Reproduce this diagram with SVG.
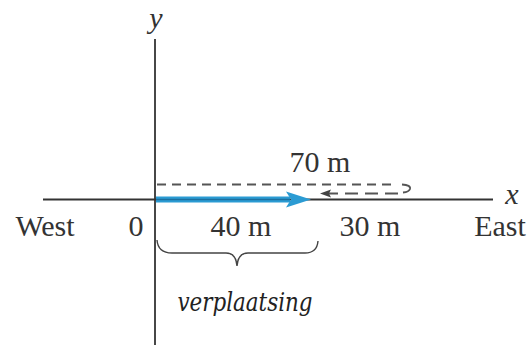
<svg xmlns="http://www.w3.org/2000/svg" width="532" height="351" viewBox="0 0 532 351">
<defs>
<style>
.lbl{font-family:"Liberation Serif","Times New Roman",serif;font-size:30px;fill:#333;text-anchor:middle}
.ax{stroke:#333;stroke-width:1.8;fill:none}
.dash{stroke:#555;stroke-width:2;fill:none;stroke-dasharray:9 6}
</style>
</defs>
<rect width="532" height="351" fill="#fff"/>
<g id="axes">
<line class="ax" x1="155" y1="39" x2="155" y2="345"/>
<line class="ax" x1="43" y1="199.5" x2="493" y2="199.5"/>
<text x="156" y="28" class="lbl" style="font-style:italic">y</text>
<text x="512" y="204" class="lbl" style="font-style:italic">x</text>
</g>
<g id="labels">
<text x="45" y="236" class="lbl">West</text>
<text x="136" y="236" class="lbl">0</text>
<text x="241" y="236" class="lbl">40 m</text>
<text x="370" y="236" class="lbl">30 m</text>
<text x="500" y="236" class="lbl">East</text>
<text x="320" y="172" class="lbl">70 m</text>
</g>
<g id="connectors">
<path class="dash" d="M157,184.5 H396"/>
<path d="M402,184.5 Q411,185 410,189 Q409,192 403,192.5" fill="none" stroke="#555" stroke-width="1.8"/>
<path class="dash" d="M398,193.5 H328" style="stroke-dasharray:13 7"/>
<path d="M320,193.5 L331,189.5 L329,193.5 L331,197.5 Z" fill="#444"/>
<g id="displacement">
<line x1="156" y1="199.5" x2="290" y2="199.5" stroke="#2b9bd3" stroke-width="6"/>
<line x1="156" y1="199.5" x2="290" y2="199.5" stroke="#1c6f9e" stroke-width="1.5"/>
<path d="M311,199.5 L286,191.5 L291,199.5 L286,207.5 Z" fill="#2b9bd3"/>
</g>
</g>
<g id="brace">
<path d="M157,240 Q158,253 172,253 H226 Q236,253 237,266 Q238,253 248,253 H305 Q317,253 318,241" fill="none" stroke="#444" stroke-width="1.4"/>
<text x="245" y="311" style="font-family:'DejaVu Serif','Liberation Serif',serif;font-style:italic;font-size:26px;fill:#222;text-anchor:middle" textLength="135" lengthAdjust="spacingAndGlyphs">verplaatsing</text>
</g>
</svg>
